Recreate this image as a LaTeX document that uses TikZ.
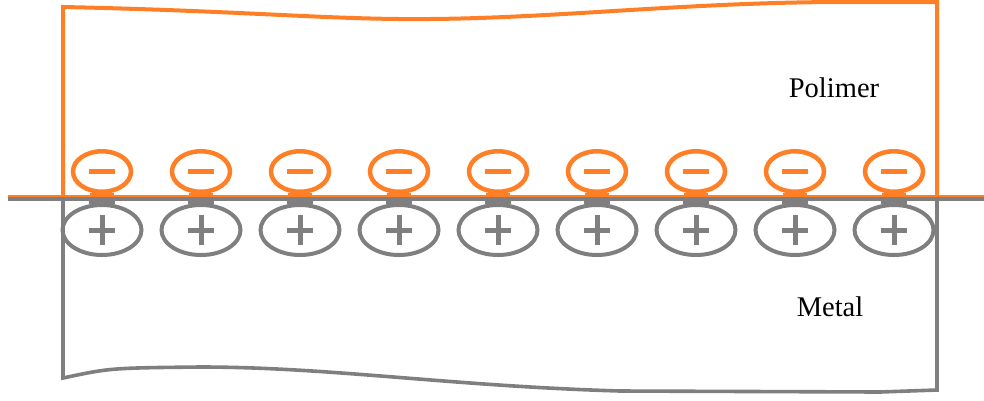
\documentclass[tikz,border=0pt]{standalone}
\usepackage{fontspec}
\setmainfont{Liberation Serif}
\usetikzlibrary{shapes.geometric}
\definecolor{polyorange}{RGB}{255,127,39}
\definecolor{metalgray}{RGB}{127,127,127}
\tikzset{
  minuscharge/.style={ellipse, draw=polyorange, line width=4.5pt, inner sep=0pt, minimum width=58pt, minimum height=40.5pt},
  pluscharge/.style={ellipse, draw=metalgray, line width=4pt, inner sep=0pt, minimum width=79pt, minimum height=50pt},
  minusbar/.style={draw=polyorange, line width=5.5pt},
  plusbar/.style={draw=metalgray, line width=5pt},
  polyline/.style={draw=polyorange, line width=4pt, line join=miter},
  metalline/.style={draw=metalgray, line width=3.6pt, line join=miter},
  label/.style={font=\fontsize{28.5}{34}\selectfont, anchor=base, inner sep=0pt}
}
\begin{document}
\begin{tikzpicture}[x=1pt,y=-1pt]
\useasboundingbox (0,0) rectangle (984,400);
% polymer outline
\draw[polyline] (63,196) -- (63,7) .. controls (250,11) and (330,20) .. (430,19)
   .. controls (560,18) and (690,2) .. (845,2) -- (937,2) -- (937,196);
% metal outline
\draw[metalline] (63,199) -- (63,378) .. controls (110,368) .. (200,367)
   .. controls (330,367) and (450,386) .. (620,391) -- (880,392) -- (937,390) -- (937,199);
% interface lines
\coordinate (il) at (8,196);
\coordinate (ir) at (984,196);
\coordinate (gl) at (8,199);
\coordinate (gr) at (984,199);
% charges
\foreach \i in {1,...,9}{
  \pgfmathsetmacro{\cx}{102+99*(\i-1)}
  \node[minuscharge] (n\i) at (\cx,171.5) {};
  \fill[polyorange] ([xshift=-12pt,yshift=-21pt]n\i.center) rectangle ([xshift=12pt,yshift=-24.5pt]n\i.center);
  \draw[minusbar] ([xshift=-13pt]n\i.center) -- ([xshift=13pt]n\i.center);
  \node[pluscharge] (p\i) at (\cx,230) {};
  \fill[metalgray] ([xshift=-13pt,yshift=26pt]p\i.center) rectangle ([xshift=13pt,yshift=30pt]p\i.center);
  \draw[plusbar] ([xshift=-13pt]p\i.center) -- ([xshift=13pt]p\i.center);
  \draw[plusbar] ([yshift=-15pt]p\i.center) -- ([yshift=15pt]p\i.center);
}
\draw[draw=polyorange, line width=2.4pt] (il) -- (ir);
\draw[draw=metalgray, line width=3.6pt] (gl) -- (gr);
% labels
\node[label] (poly) at (834,97) {Polimer};
\node[label] (metal) at (830,316) {Metal};
\end{tikzpicture}
\end{document}
